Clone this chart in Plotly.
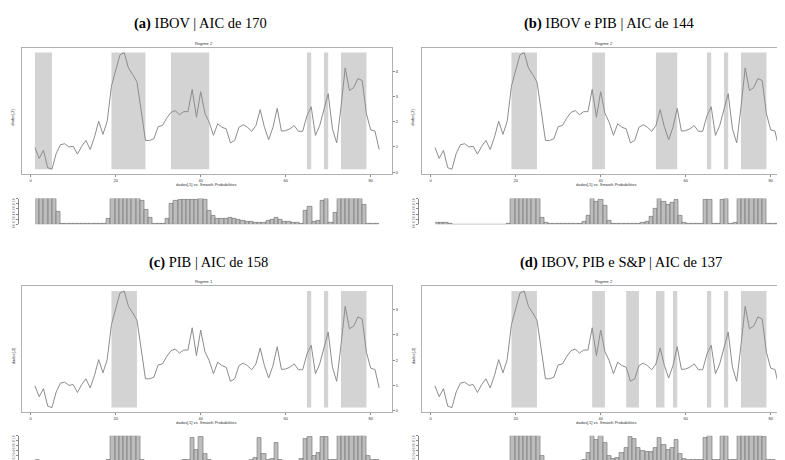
import plotly.graph_objects as go

# ---------------- data ----------------
periodos = list(range(1, 83))

serie = [0.98, 0.55, 0.87, 0.18, 0.12, 0.74, 1.09, 1.13, 1.00, 1.03,
         0.72, 1.03, 1.26, 0.90, 1.39, 2.02, 1.50, 2.02, 3.41, 4.07,
         4.65, 4.74, 4.13, 3.87, 3.58, 2.44, 1.26, 1.26, 1.33, 1.81,
         1.85, 2.14, 2.37, 2.44, 2.28, 2.40, 2.40, 3.28, 2.18, 3.19,
         2.33, 1.98, 1.46, 1.92, 1.78, 1.72, 1.16, 1.26, 1.78, 1.88,
         1.78, 1.62, 1.85, 2.48, 1.78, 1.29, 1.78, 2.53, 1.63, 1.65,
         1.72, 1.85, 1.62, 1.62, 2.24, 2.59, 1.46, 1.85, 2.44, 3.11,
         1.72, 1.16, 2.57, 4.13, 3.24, 3.35, 3.71, 3.63, 2.31, 1.68,
         1.63, 0.90]

prob_a = ([1, 1, 1, 1, 1, 0.49] + [0.01] * 11 + [0.23] + [1] * 7 +
          [0.94, 0.58, 0.26, 0.04, 0.03, 0.02, 0.23, 0.80, 0.93, 0.96,
           0.97, 0.97, 0.98, 0.98, 0.99, 0.96, 0.55, 0.32, 0.23, 0.21,
           0.23, 0.26, 0.23, 0.17, 0.13, 0.10, 0.09, 0.08, 0.06, 0.08,
           0.13, 0.17, 0.27, 0.17, 0.12, 0.09, 0.06, 0.05, 0.04, 0.53,
           0.68, 0.10, 0.14, 0.91, 1.00, 0.06, 0.45] + [1] * 6 +
          [0.78, 0.03, 0.02, 0.02])

prob_b = ([0.07, 0.06, 0.05, 0.02] + [0.005] * 13 + [0.01] + [1] * 7 +
          [0.27, 0.06, 0.01, 0.01, 0.01, 0.01, 0.02, 0.02, 0.02, 0.03,
           0.10, 0.32, 1.00, 0.90, 0.98, 0.74, 0.15, 0.02, 0.01, 0.01,
           0.01, 0.01, 0.02, 0.03, 0.06, 0.12, 0.30, 0.60, 1.00, 0.90,
           0.78, 0.85, 0.98, 0.33, 0.08, 0.03, 0.02, 0.01, 0.01, 0.95,
           0.98, 0.01, 0.02, 0.98, 0.99, 0.01, 0.05] + [1] * 7 +
          [0.02, 0.01, 0.01])

prob_c = ([0.02] + [0.005] * 16 + [0.02] + [1] * 7 +
          [0.03] + [0.005] * 9 +
          [0.01, 0.03, 0.90, 0.45, 0.95, 0.28, 0.03] + [0.005] * 9 +
          [0.01, 0.10, 0.92, 0.28, 0.03, 0.08, 0.72, 0.03] + [0.005] * 4 +
          [0.05, 0.88, 0.95, 0.18, 0.33, 0.97, 0.97, 0.03, 0.03] + [1] * 7 +
          [0.18, 0.02, 0.01])

prob_d = ([0.005] * 18 + [1] * 7 + [0.18] + [0.005] * 9 +
          [0.03, 0.33, 1.00, 0.85, 1.00, 0.72, 0.18, 0.05, 0.12, 0.33,
           0.52, 0.95, 0.87, 0.53, 0.40, 0.34, 0.37, 0.53, 0.90, 0.62,
           0.44, 0.53, 0.85, 0.28, 0.05, 0.03, 0.02, 0.01, 0.01, 0.90,
           1.00, 0.01, 0.02, 1.00, 1.00, 0.01, 0.02] + [1] * 6 +
          [0.95, 0.02, 0.01, 0.005])

regimes_a = [(1, 5), (19, 27), (33, 42), (65, 66), (69, 70), (73, 79)]
regimes_b = [(19, 25), (38, 41), (53, 58), (65, 66), (69, 70), (73, 79)]
regimes_c = [(19, 25), (65, 66), (69, 70), (73, 79)]
regimes_d = [(19, 25), (38, 41), (46, 49), (53, 55), (57, 58), (65, 66),
             (69, 70), (73, 79)]

titulos = ["<b>(a)</b> IBOV | AIC de 170", "<b>(b)</b> IBOV e PIB | AIC de 144",
           "<b>(c)</b> PIB | AIC de 158", "<b>(d)</b> IBOV, PIB e S&P | AIC de 137"]
subtitulos = ["Regime 2", "Regime 2", "Regime 1", "Regime 2"]
eixo_x_ticks = [0, 20, 40, 60, 80]
eixo_y_ticks = [0, 1, 2, 3, 4]
prob_ticks = [0.0, 0.2, 0.4, 0.6, 0.8, 1.0]

# ---------------- layout helpers ----------------
W, H = 785, 460


def xd(p0, p1):
    return [max(p0 / W, 0), min(p1 / W, 1)]


def yd(top, bot):
    return [1 - bot / H, 1 - top / H]


fig = go.Figure()
layout = dict(width=W, height=H, margin=dict(l=0, r=0, t=0, b=0),
              paper_bgcolor="white", plot_bgcolor="white", showlegend=False,
              shapes=[], annotations=[], bargap=0)

ymin, ymax = min(serie), max(serie)
span = ymax - ymin
yrange = [ymin - 0.04 * span, ymax + 0.04 * span]

panels = [
    dict(ox=0, oy=0, fr=384, prob=prob_a, reg=regimes_a, right_ticks=True,
         tcx=192, bt=191.7, bb=217.7),
    dict(ox=400, oy=0, fr=784, prob=prob_b, reg=regimes_b, right_ticks=False,
         tcx=601, bt=191.7, bb=217.7),
    dict(ox=0, oy=241, fr=384, prob=prob_c, reg=regimes_c, right_ticks=True,
         tcx=200, bt=431.5, bb=456.5),
    dict(ox=400, oy=241, fr=784, prob=prob_d, reg=regimes_d, right_ticks=False,
         tcx=613, bt=431.5, bb=456.5),
]

tiny = dict(family="Liberation Sans", size=4, color="#333")

for k, p in enumerate(panels):
    ox, oy = p["ox"], p["oy"]
    n1 = 2 * k + 1
    n2 = 2 * k + 2
    xa1 = "x" if n1 == 1 else f"x{n1}"
    ya1 = "y" if n1 == 1 else f"y{n1}"
    xa2, ya2 = f"x{n2}", f"y{n2}"
    kx1 = "xaxis" if n1 == 1 else f"xaxis{n1}"
    ky1 = "yaxis" if n1 == 1 else f"yaxis{n1}"

    # main line plot frame: tick 0 at px 22.7+ox, 4.25 px per unit
    fl, fr = 14 + ox, p["fr"]
    x0px = 22.7 + ox
    xr = [(fl - x0px) / 4.25, (fr - x0px) / 4.25]
    layout[kx1] = dict(domain=xd(fl, fr), range=xr, anchor=ya1,
                       showline=True, mirror=True, linecolor="#b0b0b0", linewidth=1,
                       ticks="outside", ticklen=2, tickcolor="#888", tickwidth=0.6,
                       tickvals=eixo_x_ticks, tickfont=tiny, showgrid=False,
                       zeroline=False)
    layout[ky1] = dict(domain=yd(39.3 + oy, 166.7 + oy), range=yrange, anchor=xa1,
                       side="right", showline=True, mirror=True,
                       linecolor="#b0b0b0", linewidth=1,
                       ticks="outside" if p["right_ticks"] else "", ticklen=2,
                       tickcolor="#888", tickwidth=0.6, tickvals=eixo_y_ticks,
                       showticklabels=p["right_ticks"], tickfont=tiny,
                       showgrid=False, zeroline=False)

    for (a, b) in p["reg"]:
        layout["shapes"].append(dict(type="rect", xref=xa1, yref=ya1, x0=a, x1=b,
                                     y0=ymin, y1=ymax, fillcolor="#d3d3d3",
                                     line=dict(width=0), layer="below"))

    fig.add_trace(go.Scatter(x=periodos, y=serie, mode="lines",
                             line=dict(color="#8c8c8c", width=1),
                             xaxis=xa1, yaxis=ya1, hoverinfo="skip"))

    # probability bars
    layout[f"xaxis{n2}"] = dict(domain=xd(27.3 + ox, 371 + ox), range=[0.5, 82.5],
                                anchor=ya2, visible=False)
    layout[f"yaxis{n2}"] = dict(domain=yd(p["bt"], p["bb"]), range=[0, 1],
                                anchor="free", position=(10 + ox) / W,
                                showline=True, linecolor="#888", linewidth=0.6,
                                ticks="outside", ticklen=2, tickcolor="#888",
                                tickwidth=0.6, tickvals=prob_ticks,
                                ticktext=[f"{v:.1f}" for v in prob_ticks],
                                ticklabelshift=2,
                                tickangle=-90, tickfont=dict(family="Liberation Sans",
                                                             size=3, color="#555"),
                                showgrid=False, zeroline=False)
    fig.add_trace(go.Bar(x=periodos, y=p["prob"], width=1.0,
                         marker=dict(color="#bdbdbd",
                                     line=dict(color="#5a5a5a", width=0.5)),
                         xaxis=xa2, yaxis=ya2, hoverinfo="skip"))

    # texts
    layout["annotations"].append(dict(text=titulos[k], x=p["tcx"] / W,
                                      y=1 - (15 + oy) / H, xref="paper", yref="paper",
                                      showarrow=False, xanchor="center", yanchor="middle",
                                      font=dict(family="Liberation Serif", size=14.5,
                                                color="black")))
    layout["annotations"].append(dict(text=subtitulos[k], x=(196 + ox) / W,
                                      y=1 - (34.5 + oy) / H, xref="paper", yref="paper",
                                      showarrow=False, xanchor="center", yanchor="middle",
                                      font=tiny))
    layout["annotations"].append(dict(text="dados[,2]", x=(5 + ox) / W,
                                      y=1 - (110 + oy) / H, xref="paper", yref="paper",
                                      showarrow=False, textangle=-90,
                                      xanchor="center", yanchor="middle", font=tiny))
    layout["annotations"].append(dict(text="dados[,1] vs. Smooth Probabilities",
                                      x=(198 + ox) / W, y=1 - (177.5 + oy) / H,
                                      xref="paper", yref="paper", showarrow=False,
                                      xanchor="center", yanchor="middle", font=tiny))

fig.update_layout(**layout)
fig.write_html("out.html")
